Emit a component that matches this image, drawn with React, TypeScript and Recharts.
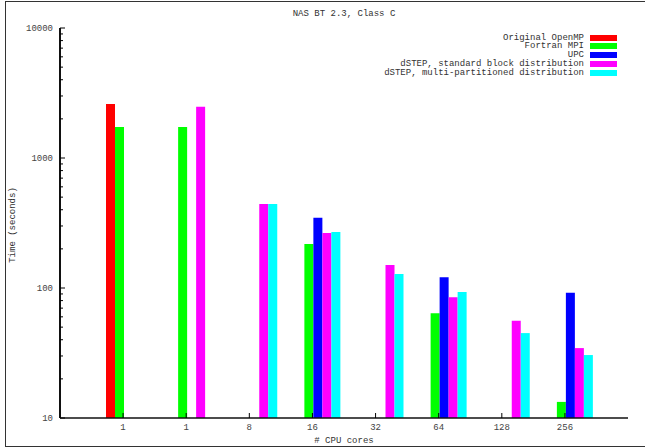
import { BarChart, Bar, XAxis, YAxis } from "recharts"

const cores = ["1", "1", "8", "16", "32", "64", "128", "256"]
const openmp = [2600, null, null, null, null, null, null, null]
const fortranMpi = [1730, 1730, null, 218, null, 64, null, 13.3]
const upc = [null, null, null, 347, null, 121, null, 92]
const dstepBlock = [null, 2480, 443, 265, 150, 85, 56, 34.5]
const dstepMulti = [null, null, 443, 270, 128, 93, 45, 30.5]

const majorTicks = [10, 100, 1000, 10000]
const yTicks: number[] = []
for (let d = 10; d < 10000; d *= 10) {
  for (let m = 1; m < 10; m++) yTicks.push(d * m)
}
yTicks.push(10000)

const series = [
  { key: "openmp", name: "Original OpenMP", color: "#ff0000" },
  { key: "fortranMpi", name: "Fortran MPI", color: "#00ff00" },
  { key: "upc", name: "UPC", color: "#0000ff" },
  { key: "dstepBlock", name: "dSTEP, standard block distribution", color: "#ff00ff" },
  { key: "dstepMulti", name: "dSTEP, multi-partitioned distribution", color: "#00ffff" }
]

const data = cores.map((c, i) => ({
  id: "c" + i,
  openmp: openmp[i],
  fortranMpi: fortranMpi[i],
  upc: upc[i],
  dstepBlock: dstepBlock[i],
  dstepMulti: dstepMulti[i]
}))

const font = "'Liberation Mono', 'DejaVu Sans Mono', monospace"
const textColor = "#444"

const LeftTick = (props: any) => {
  const { x, y, payload } = props
  const major = majorTicks.includes(payload.value)
  return (
    <g>
      <line x1={x} x2={x + (major ? 5 : 3)} y1={y} y2={y} stroke="#000" />
      {major && (
        <text x={x - 7} y={y + 3} textAnchor="end" fontSize={9} fontFamily={font} fill={textColor}>
          {payload.value}
        </text>
      )}
    </g>
  )
}

const RightTick = (props: any) => {
  const { x, y, payload } = props
  const major = majorTicks.includes(payload.value)
  return <line x1={x} x2={x - (major ? 5 : 3)} y1={y} y2={y} stroke="#000" />
}

const BottomTick = (props: any) => {
  const { x, y, index } = props
  return (
    <g>
      <line x1={x} x2={x} y1={y} y2={y - 5} stroke="#000" />
      <text x={x} y={y + 12} textAnchor="middle" fontSize={9} fontFamily={font} fill={textColor}>
        {cores[index]}
      </text>
    </g>
  )
}

const TopTick = (props: any) => {
  const { x, y } = props
  return <line x1={x} x2={x} y1={y} y2={y + 5} stroke="#000" />
}

const axisStroke = { stroke: "#111", strokeWidth: 1.6 }

export default function App() {
  return (
    <div
      style={{
        position: "absolute", left: 0, top: 0, width: 645, height: 448,
        background: "#fff", overflow: "hidden"
      }}
    >
      <div
        style={{
          position: "absolute", left: 5, top: 1, width: 660, height: 444,
          border: "1px solid #333"
        }}
      />
      <BarChart
        width={645}
        height={448}
        data={data}
        margin={{ top: 28, right: 17, bottom: 0, left: 0 }}
        barCategoryGap={8}
        barGap={0}
      >
        <XAxis
          xAxisId="bottom"
          dataKey="id"
          height={30}
          padding={{ left: 31.5, right: 31.5 }}
          tickSize={0}
          tickMargin={0}
          tickLine={false}
          axisLine={axisStroke}
          tick={<BottomTick />}
          interval={0}
        />
        <XAxis
          xAxisId="top"
          orientation="top"
          dataKey="id"
          height={0}
          padding={{ left: 31.5, right: 31.5 }}
          tickSize={0}
          tickMargin={0}
          tickLine={false}
          axisLine={axisStroke}
          tick={<TopTick />}
          interval={0}
        />
        <XAxis
          xAxisId="bars"
          orientation="top"
          dataKey="id"
          hide
          height={0}
          padding={{ left: 38, right: 25 }}
        />
        <YAxis
          yAxisId="left"
          type="number"
          scale="log"
          domain={[10, 10000]}
          allowDataOverflow
          ticks={yTicks}
          interval={0}
          width={60}
          tickSize={0}
          tickMargin={0}
          tickLine={false}
          axisLine={{ stroke: "#111", strokeWidth: 2 }}
          tick={<LeftTick />}
        />
        <YAxis
          yAxisId="right"
          orientation="right"
          type="number"
          scale="log"
          domain={[10, 10000]}
          allowDataOverflow
          ticks={yTicks}
          interval={0}
          width={0}
          tickSize={0}
          tickMargin={0}
          tickLine={false}
          axisLine={axisStroke}
          tick={<RightTick />}
        />
        {series.map((s) => (
          <Bar
            key={s.key}
            xAxisId="bars"
            yAxisId="left"
            dataKey={s.key}
            name={s.name}
            fill={s.color}
            isAnimationActive={false}
          />
        ))}
      </BarChart>
      <div
        style={{
          position: "absolute", left: 0, width: 688, top: 9, textAlign: "center",
          fontFamily: font, fontSize: 9, color: "#333", whiteSpace: "nowrap"
        }}
      >
        NAS BT 2.3, Class C
      </div>
      <div
        style={{
          position: "absolute", left: 0, width: 688, top: 436, textAlign: "center",
          fontFamily: font, fontSize: 9, color: "#333", whiteSpace: "nowrap"
        }}
      >
        # CPU cores
      </div>
      <div
        style={{
          position: "absolute", left: 13, top: 225, width: 0, height: 0
        }}
      >
        <div
          style={{
            position: "absolute", left: 0, top: 0, transform: "translate(-50%, -50%) rotate(-90deg)",
            fontFamily: font, fontSize: 9, color: "#333", whiteSpace: "nowrap"
          }}
        >
          Time (seconds)
        </div>
      </div>
      {series.map((s, i) => (
        <div
          key={s.key}
          style={{
            position: "absolute", right: 645 - 617, top: 33 + i * 8.85, height: 9,
            display: "flex", alignItems: "center", fontFamily: font, fontSize: 9,
            color: "#333", whiteSpace: "nowrap"
          }}
        >
          <span>{s.name}</span>
          <span style={{ display: "inline-block", width: 27, height: 6, background: s.color, marginLeft: 6 }} />
        </div>
      ))}
    </div>
  )
}
